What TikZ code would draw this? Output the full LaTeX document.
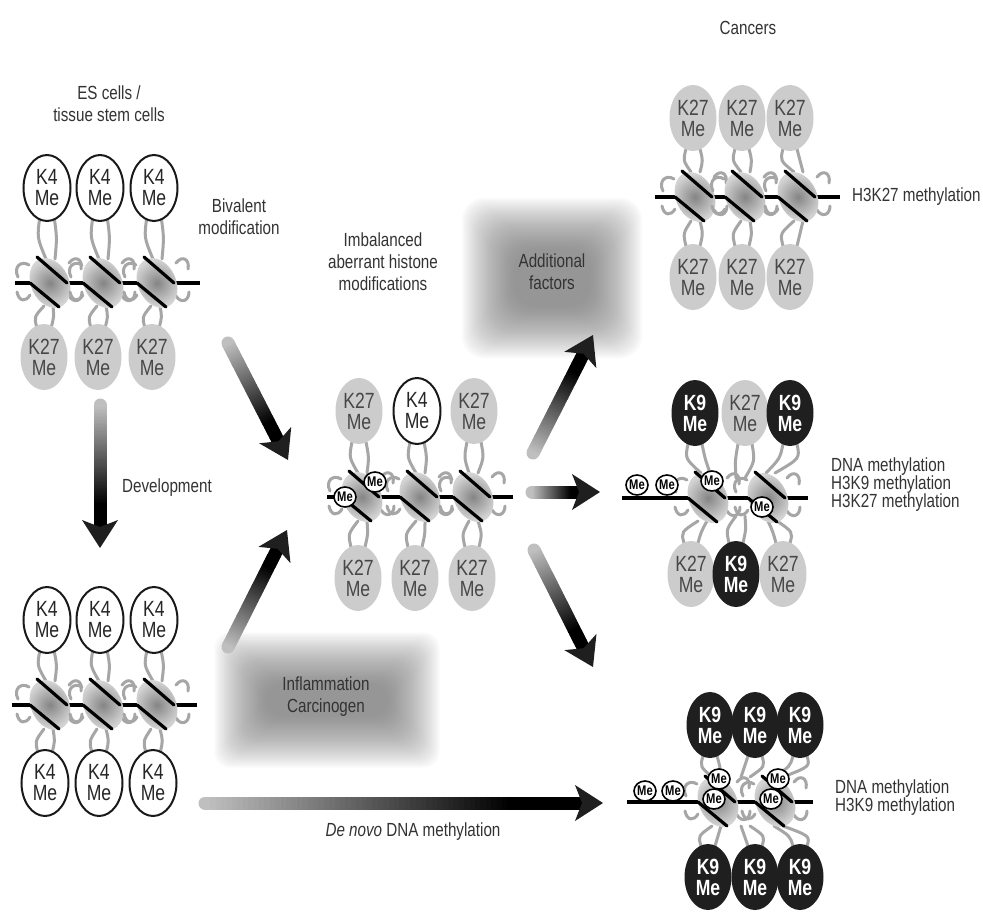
\documentclass[tikz,border=0pt]{standalone}
\usepackage{fontspec}
\setmainfont{Liberation Sans}[FakeStretch=0.8]
\usetikzlibrary{shapes.geometric,calc}

\colorlet{arrlight}{black!25}
\colorlet{circgray}{black!20}
\colorlet{tailgray}{black!35}

\tikzset{
  circbase/.style={ellipse, minimum width=47, minimum height=66, inner sep=0pt, align=center, font=\fontsize{22}{21}\selectfont},
  wcirc/.style={circbase, draw=black!90, line width=2, fill=white, text=black!85},
  gcirc/.style={circbase, fill=circgray, text=black!72},
  bcirc/.style={circbase, fill=black!88, text=white, font=\fontsize{22}{21}\selectfont\bfseries},
  mecirc/.style={ellipse, minimum width=21, minimum height=20, inner sep=0pt, draw=black, line width=1.6, fill=white, font=\fontsize{14}{14}\selectfont\bfseries, text=black},
  lbl/.style={font=\fontsize{19}{22}\selectfont, text=black!80, align=center, inner sep=0pt},
  rlbl/.style={font=\fontsize{19}{18}\selectfont, text=black!80, align=left, anchor=west, inner sep=0pt},
  tail/.style={draw=tailgray, line width=3, line cap=round},
  dna/.style={draw=black, line width=3.2},
  strand/.style={draw=black, line width=3.2, line cap=round},
}

% nucleosome at (x, dna y)
\newcommand\nucl[2]{%
  \draw[tail] (#1-32,#2-6) .. controls (#1-37,#2-16) and (#1-29,#2-23) .. (#1-21,#2-18);
  \draw[tail] (#1-33,#2+9) .. controls (#1-31,#2+19) and (#1-24,#2+19) .. (#1-20,#2+12);
  \draw[tail] (#1+19,#2-20) .. controls (#1+25,#2-28) and (#1+33,#2-24) .. (#1+31,#2-14);
  \draw[tail] (#1+19,#2+13) .. controls (#1+24,#2+21) and (#1+32,#2+18) .. (#1+32,#2+9);
  \shade[inner color=black!48, outer color=black!17, rotate around={25:(#1,#2)}] (#1,#2) ellipse [x radius=19, y radius=26];
  \draw[strand] (#1-13,#2-26) -- (#1+17,#2);
  \draw[strand] (#1-20,#2) -- (#1+9,#2+24);
}
% neck from circle edge (x1,y1) to nucleosome edge (x2,y2)
\newcommand\neck[4]{%
  \draw[tail] (#1-7,#2) .. controls (#1-10,{(#2+#4)/2}) .. (#3-4,#4);
  \draw[tail] (#1+7,#2) .. controls (#1+10,{(#2+#4)/2}) .. (#3+5,#4);
}
% gradient arrow from coordinate #1 to coordinate #2
\newcommand\garrow[2]{%
  \coordinate (gb) at ($(#2)!20pt!(#1)$);
  \draw[line width=13, draw=arrlight, line cap=round] (#1) -- ($(#1)!0.02!(gb)$);
  \foreach \i in {0,...,69} {
    \pgfmathsetmacro\ta{\i/70}
    \pgfmathsetmacro\tb{(\i+1.5)/70}
    \pgfmathsetmacro\pc{min(100,100*\i/56)}
    \draw[line width=13, draw=black!\pc!arrlight] ($(#1)!\ta!(gb)$) -- ($(#1)!\tb!(gb)$);
  }
  \coordinate (gw) at ($(#2)!28pt!(#1)$);
  \fill[black!88] (#2) -- ($(gw)!18pt!90:(#2)$) -- ($(#2)!21pt!(#1)$) -- ($(gw)!18pt!-90:(#2)$) -- cycle;
}
% blurred grey box
\newcommand\blurbox[5]{%
  \foreach \k in {0,...,27} {
    \fill[black!60, opacity=0.035, rounded corners=#5] ({#1-#3/2+\k*1.9},{#2-#4/2+\k*1.9}) rectangle ({#1+#3/2-\k*1.9},{#2+#4/2-\k*1.9});
  }
}

\begin{document}
\begin{tikzpicture}[x=1pt,y=-1pt]
\useasboundingbox (0,0) rectangle (983,913);
\fill[white] (0,0) rectangle (983,913);

% blurred boxes
\blurbox{552}{278}{180}{160}{22}
\blurbox{327}{700}{225}{135}{16}

% arrow end points
\coordinate (d0) at (100,405); \coordinate (d1) at (100,548);
\coordinate (a0) at (228,343); \coordinate (a1) at (288,460);
\coordinate (b0) at (228,647); \coordinate (b1) at (287,530);
\coordinate (u0) at (533,453); \coordinate (u1) at (593,335);
\coordinate (h0) at (532,492); \coordinate (h1) at (600,492);
\coordinate (w0) at (534,550); \coordinate (w1) at (593,667);
\coordinate (n0) at (205,803); \coordinate (n1) at (603,803);
\garrow{d0}{d1}
\garrow{a0}{a1}
\garrow{b0}{b1}
\garrow{u0}{u1}
\garrow{h0}{h1}
\garrow{w0}{w1}
\garrow{n0}{n1}

% ---------- group A: ES cells ----------
\draw[dna] (15,283) -- (200,283);
\neck{47}{216}{50}{259} \neck{100}{216}{103}{259} \neck{154}{216}{157}{259}
\neck{44}{328}{48}{306} \neck{98}{328}{101}{306} \neck{152}{328}{155}{306}
\nucl{50}{283} \nucl{103}{283} \nucl{157}{283}
\node[wcirc] (a1t) at (47,188) {K4\\Me};
\node[wcirc] (a2t) at (100,188) {K4\\Me};
\node[wcirc] (a3t) at (154,188) {K4\\Me};
\node[gcirc] (a1b) at (44,357) {K27\\Me};
\node[gcirc] (a2b) at (98,357) {K27\\Me};
\node[gcirc] (a3b) at (152,357) {K27\\Me};

% ---------- group B: after development ----------
\draw[dna] (12,705) -- (197,705);
\neck{47}{650}{50}{681} \neck{100}{650}{103}{681} \neck{154}{650}{157}{681}
\neck{45}{753}{48}{729} \neck{99}{753}{101}{729} \neck{153}{753}{155}{729}
\nucl{50}{705} \nucl{103}{705} \nucl{157}{705}
\node[wcirc] (b1t) at (47,620) {K4\\Me};
\node[wcirc] (b2t) at (100,620) {K4\\Me};
\node[wcirc] (b3t) at (154,620) {K4\\Me};
\node[wcirc] (b1b) at (45,783) {K4\\Me};
\node[wcirc] (b2b) at (99,783) {K4\\Me};
\node[wcirc] (b3b) at (153,783) {K4\\Me};

% ---------- middle group ----------
\draw[dna] (327,497) -- (513,497);
\neck{359}{442}{362}{473} \neck{417}{442}{420}{473} \neck{474}{442}{473}{473}
\neck{358}{547}{362}{521} \neck{415}{547}{420}{521} \neck{472}{547}{473}{521}
\nucl{362}{497} \nucl{420}{497} \nucl{473}{497}
\node[gcirc] (m1t) at (359,411) {K27\\Me};
\node[wcirc] (m2t) at (417,411) {K4\\Me};
\node[gcirc] (m3t) at (474,411) {K27\\Me};
\node[gcirc] (m1b) at (358,578) {K27\\Me};
\node[gcirc] (m2b) at (415,578) {K27\\Me};
\node[gcirc] (m3b) at (472,578) {K27\\Me};
\node[mecirc] (mme1) at (345,497) {Me};
\node[mecirc] (mme2) at (375,482) {Me};

% ---------- right top: H3K27 ----------
\draw[dna] (655,197) -- (840,197);
\neck{693}{149}{695}{172} \neck{742}{149}{745}{172} \neck{790}{149}{798}{172}
\neck{693}{246}{695}{221} \neck{742}{246}{745}{221} \neck{790}{246}{798}{221}
\nucl{695}{197} \nucl{745}{197} \nucl{798}{197}
\node[gcirc] (t1t) at (693,118) {K27\\Me};
\node[gcirc] (t2t) at (742,118) {K27\\Me};
\node[gcirc] (t3t) at (790,118) {K27\\Me};
\node[gcirc] (t1b) at (693,277) {K27\\Me};
\node[gcirc] (t2b) at (742,277) {K27\\Me};
\node[gcirc] (t3b) at (790,277) {K27\\Me};

% ---------- right middle ----------
\draw[dna] (622,498) -- (808,498);
\neck{695}{444}{705}{473} \neck{745}{444}{740}{478} \neck{790}{444}{770}{473}
\neck{691}{543}{702}{521} \neck{736}{543}{740}{516} \neck{783}{543}{772}{521}
\nucl{708}{498} \nucl{768}{498}
\node[bcirc] (r1t) at (695,413) {K9\\Me};
\node[gcirc] (r2t) at (745,413) {K27\\Me};
\node[bcirc] (r3t) at (790,413) {K9\\Me};
\node[gcirc] (r1b) at (691,574) {K27\\Me};
\node[bcirc] (r2b) at (736,574) {K9\\Me};
\node[gcirc] (r3b) at (783,574) {K27\\Me};
\node[mecirc] (rme1) at (637,485) {Me};
\node[mecirc] (rme2) at (667,485) {Me};
\node[mecirc] (rme3) at (712,481) {Me};
\node[mecirc] (rme4) at (762,507) {Me};

% ---------- right bottom ----------
\draw[dna] (627,802) -- (813,802);
\neck{710}{756}{716}{777} \neck{755}{756}{745}{777} \neck{800}{756}{778}{777}
\neck{708}{846}{716}{826} \neck{755}{846}{745}{826} \neck{800}{846}{778}{826}
\nucl{718}{802} \nucl{775}{802}
\node[bcirc] (s1t) at (710,725) {K9\\Me};
\node[bcirc] (s2t) at (755,725) {K9\\Me};
\node[bcirc] (s3t) at (800,725) {K9\\Me};
\node[bcirc] (s1b) at (708,877) {K9\\Me};
\node[bcirc] (s2b) at (755,877) {K9\\Me};
\node[bcirc] (s3b) at (800,877) {K9\\Me};
\node[mecirc] (sme1) at (645,791) {Me};
\node[mecirc] (sme2) at (673,791) {Me};
\node[mecirc] (sme3) at (719,779) {Me};
\node[mecirc] (sme4) at (714,799) {Me};
\node[mecirc] (sme5) at (778,779) {Me};
\node[mecirc] (sme6) at (771,799) {Me};

% ---------- labels ----------
\node[lbl] (es) at (109,104) {ES cells /\\tissue stem cells};
\node[lbl] (biv) at (239,217) {Bivalent\\modification};
\node[lbl] (dev) at (167,488) {Development};
\node[lbl] (imb) at (383,262) {Imbalanced\\aberrant histone\\modifications};
\node[lbl] (add) at (552,272) {Additional\\factors};
\node[lbl] (infl) at (326,697) {Inflammation\\Carcinogen};
\node[lbl] (denovo) at (413,832) {\textit{De novo} DNA methylation};
\node[lbl] (canc) at (748,28) {Cancers};
\node[rlbl] (h27) at (852,197) {H3K27 methylation};
\node[rlbl] (rm) at (831,485) {DNA methylation\\H3K9 methylation\\H3K27 methylation};
\node[rlbl] (rb) at (835,798) {DNA methylation\\H3K9 methylation};
\end{tikzpicture}
\end{document}
